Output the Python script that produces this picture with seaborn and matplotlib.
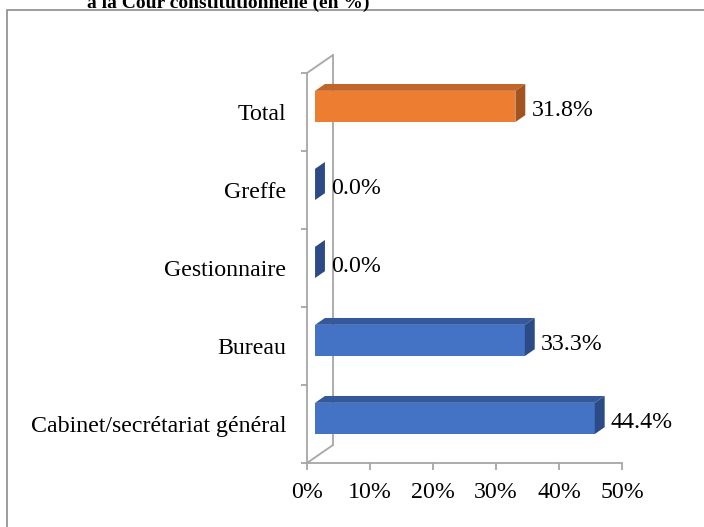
import matplotlib
matplotlib.use("Agg")
import matplotlib.pyplot as plt
from matplotlib.patches import Polygon, Rectangle
import pandas as pd
import seaborn as sns

categories = ["Total", "Greffe", "Gestionnaire", "Bureau", "Cabinet/secrétariat général"]
values = [31.8, 0.0, 0.0, 33.3, 44.4]
front_colors = ["#ED7D31", "#4472C4", "#4472C4", "#4472C4", "#4472C4"]
top_colors = ["#C0662A", "#34589A", "#34589A", "#34589A", "#34589A"]
side_colors = ["#A3531F", "#2C4A85", "#2C4A85", "#2C4A85", "#2C4A85"]
x_ticks = [0, 10, 20, 30, 40, 50]
x_tick_labels = ["0%", "10%", "20%", "30%", "40%", "50%"]
title = "à la Cour constitutionnelle (en %)"

sns.set_style("white")
plt.rcParams["font.family"] = ["Liberation Serif", "DejaVu Serif"]
plt.rcParams["text.color"] = "black"
FS = 17.2

W, H = 704, 527
fig = plt.figure(figsize=(W / 100, H / 100), dpi=100)
ax = fig.add_axes([307 / W, 64 / H, 315 / W, 390 / H])

df = pd.DataFrame({"cat": categories, "val": values})
sns.barplot(data=df, x="val", y="cat", hue="cat", palette=front_colors,
            width=0.4, orient="h", legend=False, saturation=1, ax=ax, zorder=3)
ax.set_xlim(0, 50)
ax.set_ylim(4.5, -0.5)


def px(dx, dy):
    # pixel offset (right, up) -> data offset
    ox, oy = ax.transData.transform((0, 0))
    return ax.transData.inverted().transform((ox + dx, oy + dy))


wall = (26, 18)
fx, fy = px(wall[0] * 0.31, wall[1] * 0.31)
dx, dy = px(wall[0] * 0.38, wall[1] * 0.38)
wx, wy = px(*wall)

grey = "#A6A6A6"
# back wall and floor edge
ax.plot([wx, wx], [-0.5 + wy, 4.5 + wy], color=grey, lw=1.3, clip_on=False, zorder=1)
ax.plot([0, wx], [-0.5, -0.5 + wy], color=grey, lw=1.3, clip_on=False, zorder=1)
ax.plot([0, wx], [4.5, 4.5 + wy], color=grey, lw=1.3, clip_on=False, zorder=1)

for i, p in enumerate(ax.patches):
    p.set_x(p.get_x() + fx)
    p.set_y(p.get_y() + fy)
    p.set_edgecolor("none")
    x0, w, yt, h = p.get_x(), p.get_width(), p.get_y(), p.get_height()
    yb = yt + h
    top = Polygon([(x0, yt), (x0 + w, yt), (x0 + w + dx, yt + dy), (x0 + dx, yt + dy)],
                  closed=True, facecolor=top_colors[i], edgecolor="none", zorder=3, clip_on=False)
    side = Polygon([(x0 + w, yt), (x0 + w, yb), (x0 + w + dx, yb + dy), (x0 + w + dx, yt + dy)],
                   closed=True, facecolor=side_colors[i], edgecolor="none", zorder=3, clip_on=False)
    ax.add_patch(top)
    ax.add_patch(side)
    ax.annotate(f"{values[i]:.1f}%", xy=(x0 + w + dx, yt + h / 2), xytext=(4.5, -3),
                textcoords="offset points", ha="left", va="center", fontsize=FS,
                color="black", annotation_clip=False)

for s in ["top", "right"]:
    ax.spines[s].set_visible(False)
for s in ["left", "bottom"]:
    ax.spines[s].set_color(grey)
    ax.spines[s].set_linewidth(1.3)

ax.set_yticks(range(len(categories)))
ax.set_yticklabels(categories, fontsize=FS)
ax.set_yticks([i - 0.5 for i in range(len(categories) + 1)], minor=True)
ax.tick_params(axis="y", which="major", length=0, pad=15, labelcolor="black")
ax.tick_params(axis="y", which="minor", length=4, width=1.3, color=grey, direction="out", left=True)
ax.set_xticks(x_ticks)
ax.set_xticklabels(x_tick_labels, fontsize=FS)
ax.tick_params(axis="x", length=5, width=1.3, color=grey, direction="out", bottom=True,
               pad=9, labelcolor="black")
ax.set_xlabel("")
ax.set_ylabel("")
ax.grid(False)

fig.text(228.5 / W, 1 - 8 / H, title, ha="center", va="baseline",
         fontsize=14, fontweight="bold", color="black")
fig.add_artist(Rectangle((7 / W, -0.1), 1.2, 1.1 - 10 / H, transform=fig.transFigure,
                         fill=False, edgecolor="#8C8C8C", lw=1.2, clip_on=False))

fig.savefig("out.png", dpi=100)
